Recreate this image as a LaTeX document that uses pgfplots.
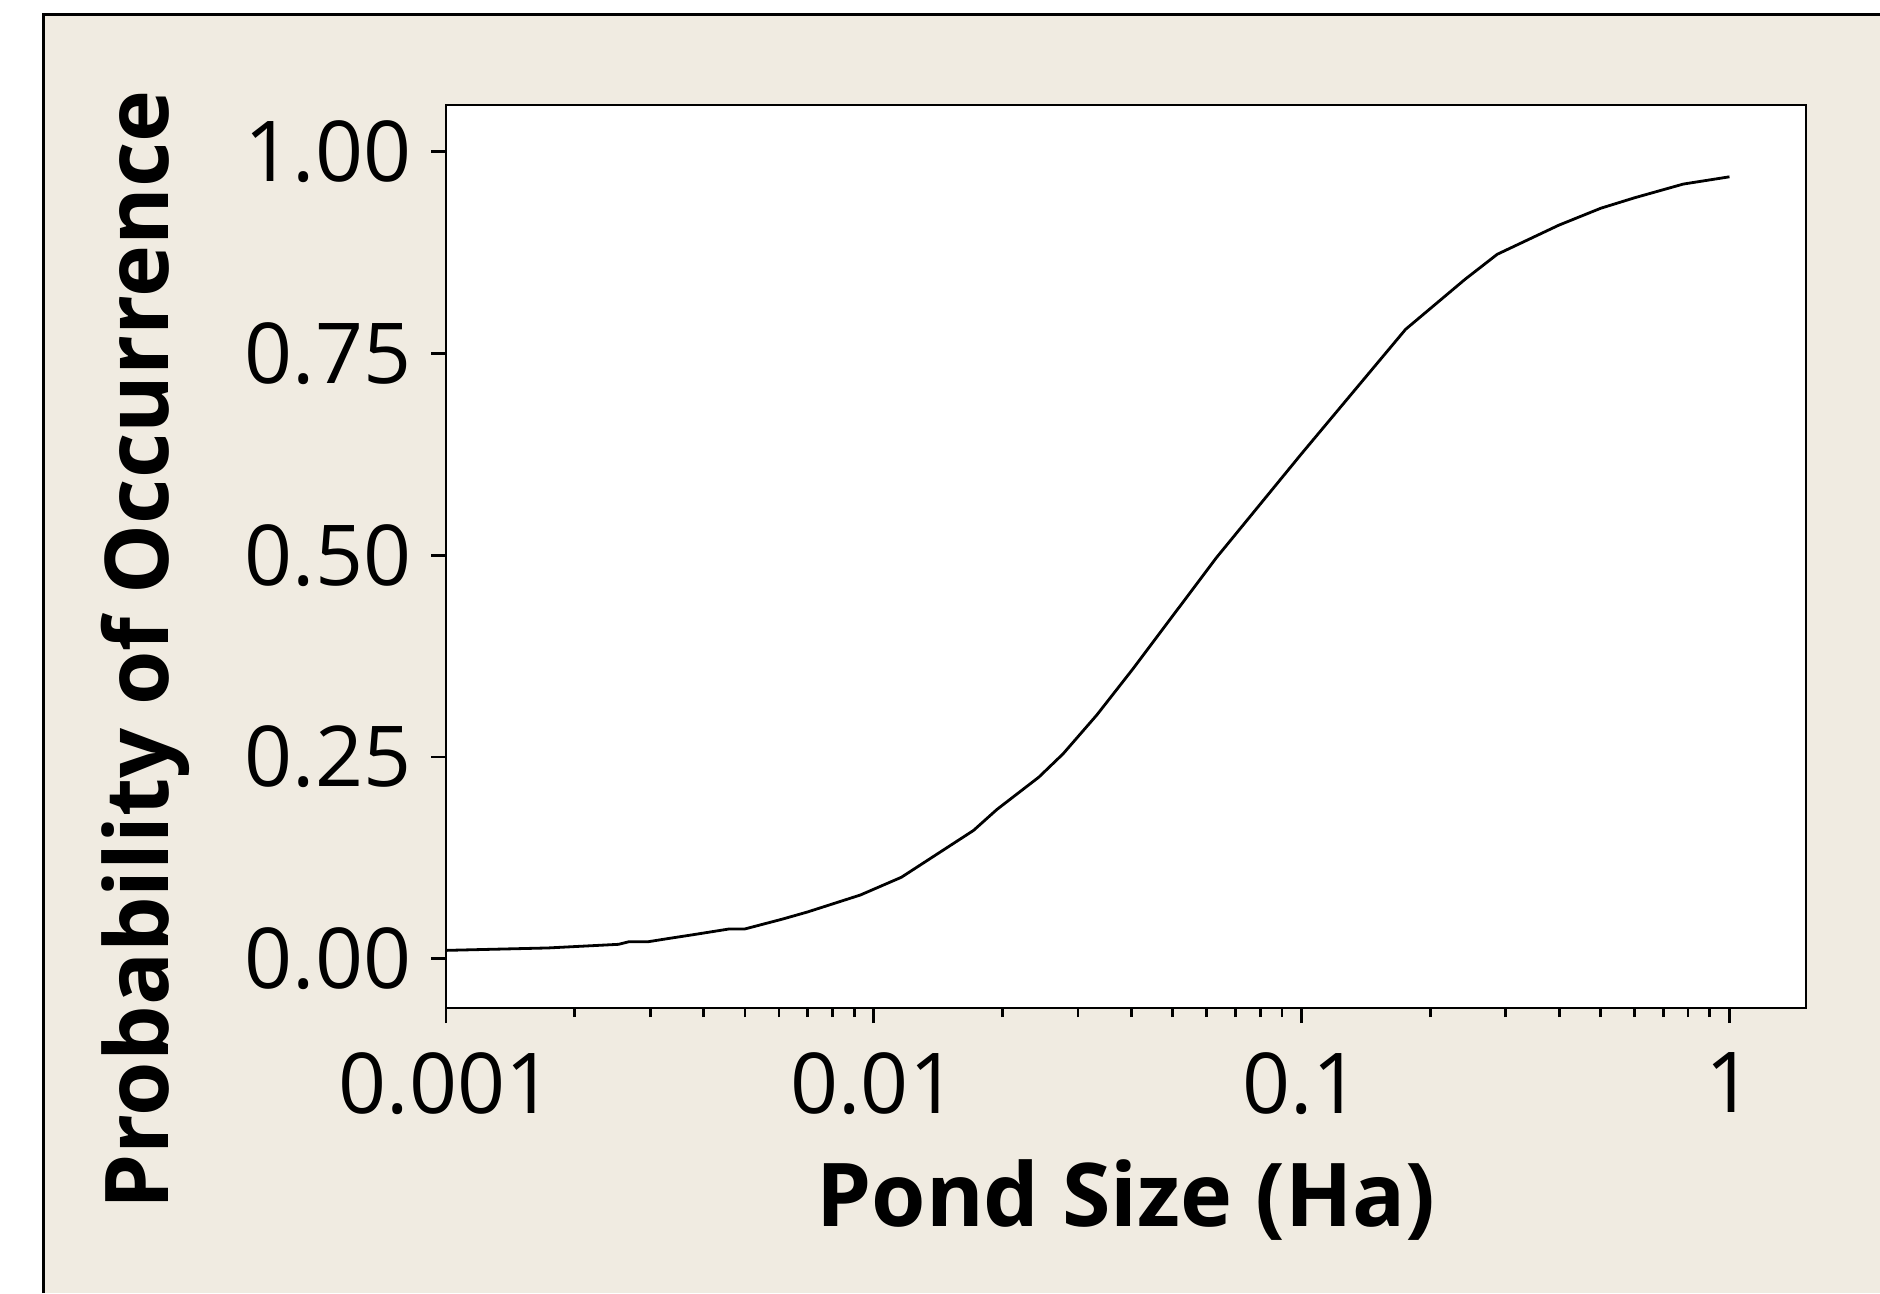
\documentclass[border=0pt]{standalone}
\usepackage{pgfplots}
\pgfplotsset{compat=1.18}
\usepackage{fontspec}
\setmainfont{Open Sans}
\definecolor{panel}{HTML}{F0EBE1}

\newcommand{\labfont}{\fontsize{21}{21}\selectfont}
\newcommand{\titfont}{\bfseries\fontsize{22}{22}\selectfont}

\begin{document}
\begin{tikzpicture}
% page background and panel frame
\fill[white] (0pt,0pt) rectangle (470pt,323.25pt);
\fill[panel] (10.875pt,0pt) rectangle (470pt,319.5pt);
\draw[line width=0.75pt] (10.875pt,0pt) -- (10.875pt,319.5pt) -- (470pt,319.5pt);

\begin{axis}[
    at={(111.5pt,71.25pt)}, anchor=south west,
    scale only axis, width=340pt, height=225.75pt,
    axis background/.style={fill=white},
    xmode=log,
    xmin=0.001, xmax=1.51,
    ymin=-0.061, ymax=1.058,
    axis line style={line width=0.7pt},
    tick style={line width=0.7pt, black},
    tick align=outside,
    major tick length=3.75pt, minor tick length=2.25pt,
    xtick pos=bottom, ytick pos=left,
    xtick={0.001,0.01,0.1,1},
    xticklabels={0.001,0.01,0.1,1},
    minor xtick={0.002,0.003,0.004,0.005,0.006,0.007,0.008,0.009,
                 0.02,0.03,0.04,0.05,0.06,0.07,0.08,0.09,
                 0.2,0.3,0.4,0.5,0.6,0.7,0.8,0.9},
    ytick={0,0.25,0.5,0.75,1},
    yticklabels={0.00,0.25,0.50,0.75,1.00},
    tick label style={font=\labfont},
    xticklabel style={inner sep=0pt, yshift=-7.25pt},
    yticklabel style={inner sep=0pt, xshift=-4.75pt},
    xlabel={Pond Size (Ha)},
    ylabel={Probability of Occurrence},
    xlabel style={font=\titfont, at={(rel axis cs:0.5,-0.2425)}, anchor=base, inner sep=0pt},
    ylabel style={font=\titfont, at={(rel axis cs:-0.2037,0.3965)}, anchor=base, inner sep=0pt},
]
\addplot[black, line width=0.7pt, no marks] coordinates {
    (0.00100, 0.0104)
    (0.00173, 0.0134)
    (0.00253, 0.0179)
    (0.00267, 0.0210)
    (0.00296, 0.0210)
    (0.00330, 0.0250)
    (0.00380, 0.0300)
    (0.00460, 0.0370)
    (0.00500, 0.0370)
    (0.00610, 0.0490)
    (0.00700, 0.0580)
    (0.00930, 0.0790)
    (0.01160, 0.1010)
    (0.01710, 0.1590)
    (0.01940, 0.1850)
    (0.02430, 0.2250)
    (0.02770, 0.2540)
    (0.03320, 0.3020)
    (0.04030, 0.3590)
    (0.06320, 0.4970)
    (0.10000, 0.6260)
    (0.17500, 0.7800)
    (0.24100, 0.8420)
    (0.28660, 0.8730)
    (0.39900, 0.9090)
    (0.50000, 0.9300)
    (0.60000, 0.9430)
    (0.78000, 0.9600)
    (1.00000, 0.9690)
};
\end{axis}
\pgfresetboundingbox
\useasboundingbox (0pt,0pt) rectangle (470pt,323.25pt);
\end{tikzpicture}
\end{document}
